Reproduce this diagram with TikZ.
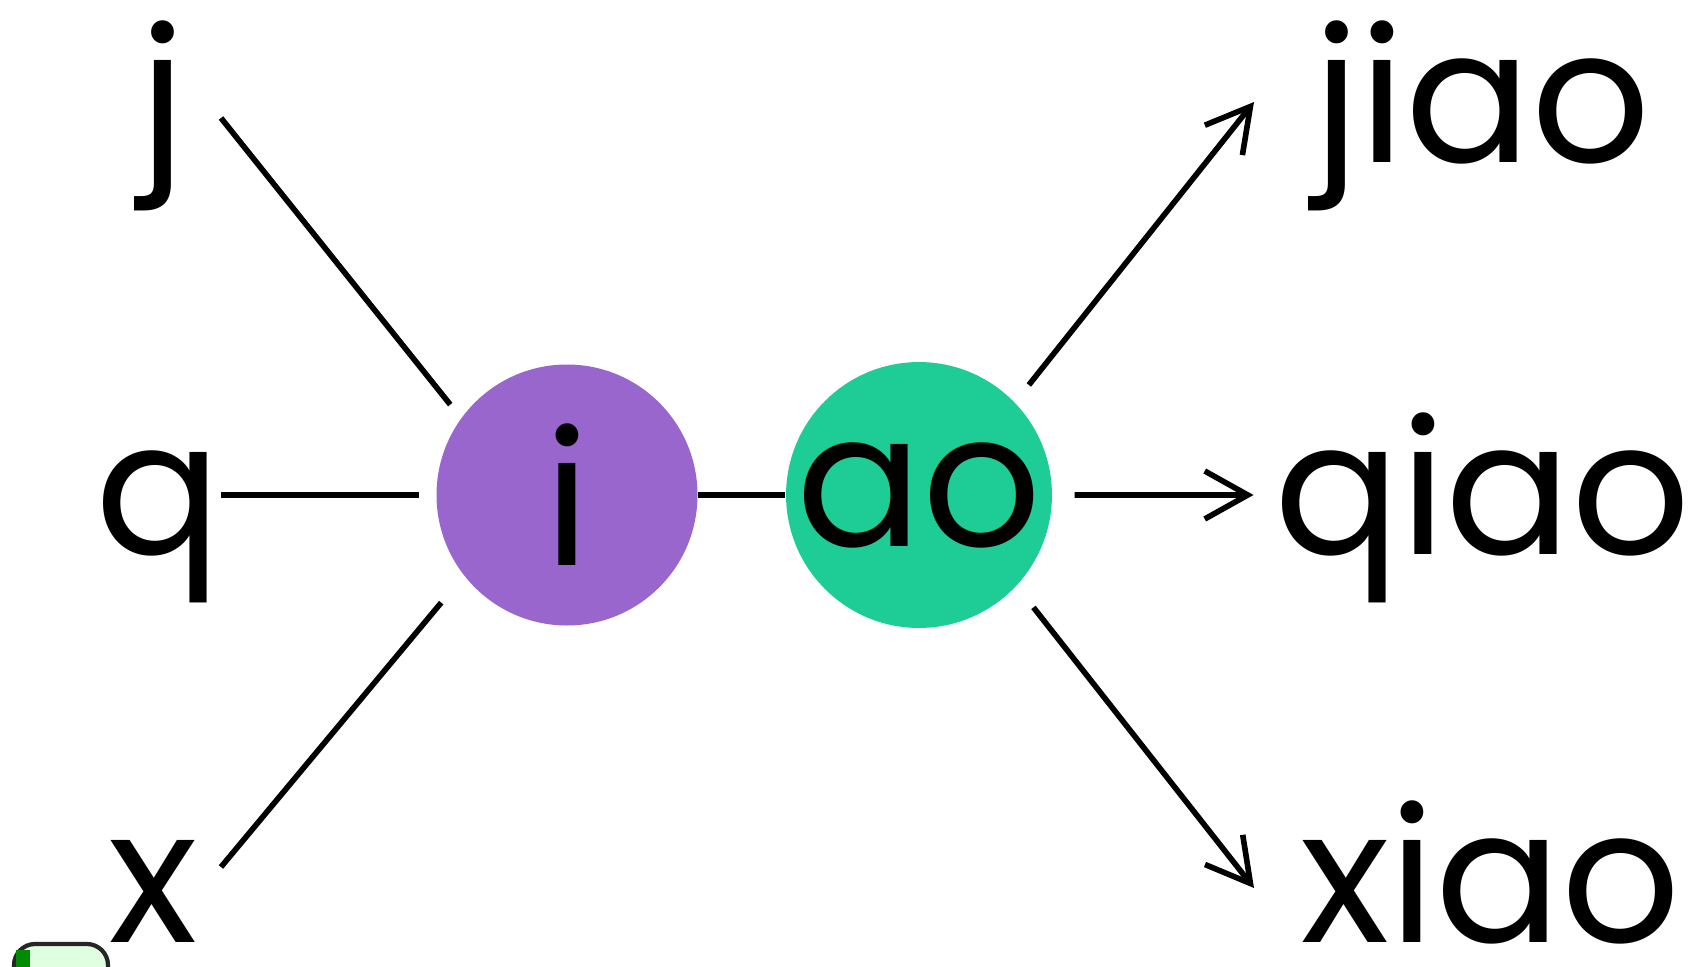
\documentclass[tikz,border=0pt]{standalone}
\usepackage{fontspec}
\setmainfont{Poppins}
\usetikzlibrary{arrows.meta}

\definecolor{ipurple}{RGB}{152,102,204}
\definecolor{aogreen}{RGB}{30,204,150}

\begin{document}
\begin{tikzpicture}[every node/.style={font=\fontsize{53}{60}\selectfont, inner sep=0pt},
  vowel/.style={circle, minimum size=2.61cm},
  link/.style={line width=1.6pt},
  spell/.style={line width=1.6pt, -{Straight Barb[length=4.3mm,width=4.8mm]}}]
  \useasboundingbox (0,0) rectangle (16.88,9.66);

  % Initials
  \node (j) at (1.63,8.04) [anchor=base] {j};
  \node (q) at (1.58,4.12) [anchor=base] {q};
  \node (x) at (1.53,0.24) [anchor=base] {x};

  % Finals
  \node (i) at (5.67,4.71) [vowel, fill=ipurple] {i};
  \node (ao) at (9.19,4.71) [vowel, fill=aogreen] {ao};

  % Syllables
  \node (jiao) at (13.13,8.04) [anchor=base west] {jiao};
  \node (qiao) at (12.735,4.12) [anchor=base west] {qiao};
  \node (xiao) at (13.0,0.24) [anchor=base west] {xiao};

  % Initials to i
  \draw[link, shorten >=0.17cm] ([xshift=5.8mm, yshift=4.4mm]j.base) -- (i.144);
  \draw[link, shorten >=0.17cm] ([xshift=6.3mm, yshift=5.9mm]q.base) -- (i.west);
  \draw[link, shorten >=0.35cm] ([xshift=6.8mm, yshift=7.5mm]x.base) -- (i.218);
  \draw[link] (i) -- (ao);

  % ao to syllables
  \draw[spell, shorten <=0.22cm] (ao.44.5) -- ([xshift=-5.9mm, yshift=6mm]jiao.base west);
  \draw[spell, shorten <=0.22cm] (ao.east) -- ([xshift=-2mm, yshift=5.9mm]qiao.base west);
  \draw[spell, shorten <=0.27cm] (ao.-43.5) -- ([xshift=-4.6mm, yshift=5.4mm]xiao.base west);

  % corner of a cut-off button
  \begin{scope}
    \clip (0,0) rectangle (16.88,9.66);
    \draw[line width=1.2pt, draw=black!85, fill=green!12, rounded corners=6pt] (0.14,-0.3) rectangle (1.08,0.22);
    \fill[green!55!black] (0.16,-0.3) rectangle (0.3,0.16);
  \end{scope}
\end{tikzpicture}
\end{document}
